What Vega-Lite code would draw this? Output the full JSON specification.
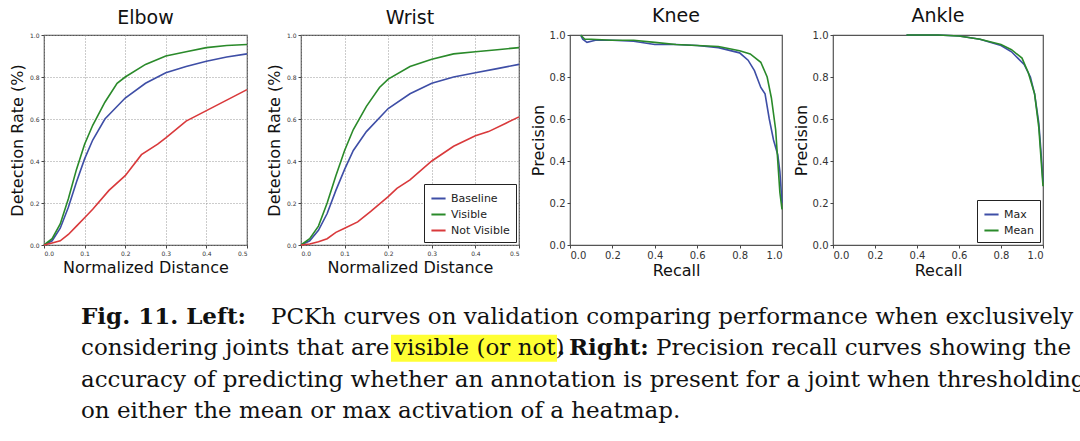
{
  "$schema": "https://vega.github.io/schema/vega-lite/v6.json",
  "padding": {"left": 8, "top": 6, "right": 4, "bottom": 0},
  "background": "white",
  "datasets": {
    "pckh": [
      {"joint":"Elbow","series":"Baseline","d":0,"r":0},{"joint":"Elbow","series":"Baseline","d":0.02,"r":0.02},{"joint":"Elbow","series":"Baseline","d":0.04,"r":0.08},{"joint":"Elbow","series":"Baseline","d":0.06,"r":0.18},{"joint":"Elbow","series":"Baseline","d":0.08,"r":0.3},{"joint":"Elbow","series":"Baseline","d":0.1,"r":0.41},{"joint":"Elbow","series":"Baseline","d":0.12,"r":0.5},{"joint":"Elbow","series":"Baseline","d":0.15,"r":0.6},{"joint":"Elbow","series":"Baseline","d":0.2,"r":0.7},{"joint":"Elbow","series":"Baseline","d":0.25,"r":0.77},{"joint":"Elbow","series":"Baseline","d":0.3,"r":0.82},{"joint":"Elbow","series":"Baseline","d":0.35,"r":0.85},{"joint":"Elbow","series":"Baseline","d":0.4,"r":0.875},{"joint":"Elbow","series":"Baseline","d":0.45,"r":0.895},{"joint":"Elbow","series":"Baseline","d":0.5,"r":0.91},
      {"joint":"Elbow","series":"Visible","d":0,"r":0},{"joint":"Elbow","series":"Visible","d":0.02,"r":0.03},{"joint":"Elbow","series":"Visible","d":0.04,"r":0.1},{"joint":"Elbow","series":"Visible","d":0.06,"r":0.22},{"joint":"Elbow","series":"Visible","d":0.08,"r":0.36},{"joint":"Elbow","series":"Visible","d":0.1,"r":0.48},{"joint":"Elbow","series":"Visible","d":0.12,"r":0.57},{"joint":"Elbow","series":"Visible","d":0.15,"r":0.68},{"joint":"Elbow","series":"Visible","d":0.18,"r":0.77},{"joint":"Elbow","series":"Visible","d":0.2,"r":0.8},{"joint":"Elbow","series":"Visible","d":0.25,"r":0.86},{"joint":"Elbow","series":"Visible","d":0.3,"r":0.9},{"joint":"Elbow","series":"Visible","d":0.35,"r":0.92},{"joint":"Elbow","series":"Visible","d":0.4,"r":0.94},{"joint":"Elbow","series":"Visible","d":0.45,"r":0.95},{"joint":"Elbow","series":"Visible","d":0.5,"r":0.955},
      {"joint":"Elbow","series":"Not Visible","d":0,"r":0},{"joint":"Elbow","series":"Not Visible","d":0.02,"r":0.01},{"joint":"Elbow","series":"Not Visible","d":0.04,"r":0.02},{"joint":"Elbow","series":"Not Visible","d":0.06,"r":0.05},{"joint":"Elbow","series":"Not Visible","d":0.08,"r":0.09},{"joint":"Elbow","series":"Not Visible","d":0.1,"r":0.13},{"joint":"Elbow","series":"Not Visible","d":0.12,"r":0.17},{"joint":"Elbow","series":"Not Visible","d":0.16,"r":0.26},{"joint":"Elbow","series":"Not Visible","d":0.2,"r":0.33},{"joint":"Elbow","series":"Not Visible","d":0.24,"r":0.43},{"joint":"Elbow","series":"Not Visible","d":0.28,"r":0.48},{"joint":"Elbow","series":"Not Visible","d":0.3,"r":0.51},{"joint":"Elbow","series":"Not Visible","d":0.35,"r":0.59},{"joint":"Elbow","series":"Not Visible","d":0.4,"r":0.64},{"joint":"Elbow","series":"Not Visible","d":0.45,"r":0.69},{"joint":"Elbow","series":"Not Visible","d":0.5,"r":0.74},
      {"joint":"Wrist","series":"Baseline","d":0,"r":0},{"joint":"Wrist","series":"Baseline","d":0.02,"r":0.02},{"joint":"Wrist","series":"Baseline","d":0.04,"r":0.07},{"joint":"Wrist","series":"Baseline","d":0.06,"r":0.15},{"joint":"Wrist","series":"Baseline","d":0.08,"r":0.26},{"joint":"Wrist","series":"Baseline","d":0.1,"r":0.36},{"joint":"Wrist","series":"Baseline","d":0.12,"r":0.45},{"joint":"Wrist","series":"Baseline","d":0.15,"r":0.54},{"joint":"Wrist","series":"Baseline","d":0.2,"r":0.65},{"joint":"Wrist","series":"Baseline","d":0.25,"r":0.72},{"joint":"Wrist","series":"Baseline","d":0.3,"r":0.77},{"joint":"Wrist","series":"Baseline","d":0.35,"r":0.8},{"joint":"Wrist","series":"Baseline","d":0.4,"r":0.82},{"joint":"Wrist","series":"Baseline","d":0.45,"r":0.84},{"joint":"Wrist","series":"Baseline","d":0.5,"r":0.86},
      {"joint":"Wrist","series":"Visible","d":0,"r":0},{"joint":"Wrist","series":"Visible","d":0.02,"r":0.03},{"joint":"Wrist","series":"Visible","d":0.04,"r":0.09},{"joint":"Wrist","series":"Visible","d":0.06,"r":0.2},{"joint":"Wrist","series":"Visible","d":0.08,"r":0.33},{"joint":"Wrist","series":"Visible","d":0.1,"r":0.45},{"joint":"Wrist","series":"Visible","d":0.12,"r":0.55},{"joint":"Wrist","series":"Visible","d":0.15,"r":0.66},{"joint":"Wrist","series":"Visible","d":0.18,"r":0.75},{"joint":"Wrist","series":"Visible","d":0.2,"r":0.79},{"joint":"Wrist","series":"Visible","d":0.25,"r":0.85},{"joint":"Wrist","series":"Visible","d":0.3,"r":0.885},{"joint":"Wrist","series":"Visible","d":0.35,"r":0.91},{"joint":"Wrist","series":"Visible","d":0.4,"r":0.92},{"joint":"Wrist","series":"Visible","d":0.45,"r":0.93},{"joint":"Wrist","series":"Visible","d":0.5,"r":0.94},
      {"joint":"Wrist","series":"Not Visible","d":0,"r":0},{"joint":"Wrist","series":"Not Visible","d":0.02,"r":0.005},{"joint":"Wrist","series":"Not Visible","d":0.04,"r":0.015},{"joint":"Wrist","series":"Not Visible","d":0.06,"r":0.03},{"joint":"Wrist","series":"Not Visible","d":0.08,"r":0.06},{"joint":"Wrist","series":"Not Visible","d":0.1,"r":0.08},{"joint":"Wrist","series":"Not Visible","d":0.13,"r":0.11},{"joint":"Wrist","series":"Not Visible","d":0.16,"r":0.16},{"joint":"Wrist","series":"Not Visible","d":0.2,"r":0.23},{"joint":"Wrist","series":"Not Visible","d":0.22,"r":0.27},{"joint":"Wrist","series":"Not Visible","d":0.25,"r":0.31},{"joint":"Wrist","series":"Not Visible","d":0.3,"r":0.4},{"joint":"Wrist","series":"Not Visible","d":0.35,"r":0.47},{"joint":"Wrist","series":"Not Visible","d":0.4,"r":0.52},{"joint":"Wrist","series":"Not Visible","d":0.43,"r":0.54},{"joint":"Wrist","series":"Not Visible","d":0.47,"r":0.58},{"joint":"Wrist","series":"Not Visible","d":0.5,"r":0.61}
    ],
    "pr": [
      {"joint":"Knee","series":"Max","recall":0.05,"precision":1.0},{"joint":"Knee","series":"Max","recall":0.06,"precision":0.98},{"joint":"Knee","series":"Max","recall":0.08,"precision":0.965},{"joint":"Knee","series":"Max","recall":0.12,"precision":0.975},{"joint":"Knee","series":"Max","recall":0.2,"precision":0.975},{"joint":"Knee","series":"Max","recall":0.3,"precision":0.97},{"joint":"Knee","series":"Max","recall":0.4,"precision":0.955},{"joint":"Knee","series":"Max","recall":0.5,"precision":0.955},{"joint":"Knee","series":"Max","recall":0.6,"precision":0.95},{"joint":"Knee","series":"Max","recall":0.7,"precision":0.94},{"joint":"Knee","series":"Max","recall":0.8,"precision":0.915},{"joint":"Knee","series":"Max","recall":0.84,"precision":0.88},{"joint":"Knee","series":"Max","recall":0.87,"precision":0.83},{"joint":"Knee","series":"Max","recall":0.9,"precision":0.75},{"joint":"Knee","series":"Max","recall":0.92,"precision":0.72},{"joint":"Knee","series":"Max","recall":0.94,"precision":0.6},{"joint":"Knee","series":"Max","recall":0.96,"precision":0.5},{"joint":"Knee","series":"Max","recall":0.98,"precision":0.43},{"joint":"Knee","series":"Max","recall":0.99,"precision":0.35},{"joint":"Knee","series":"Max","recall":1.0,"precision":0.2},
      {"joint":"Knee","series":"Mean","recall":0.05,"precision":1.0},{"joint":"Knee","series":"Mean","recall":0.07,"precision":0.98},{"joint":"Knee","series":"Mean","recall":0.1,"precision":0.98},{"joint":"Knee","series":"Mean","recall":0.2,"precision":0.975},{"joint":"Knee","series":"Mean","recall":0.3,"precision":0.975},{"joint":"Knee","series":"Mean","recall":0.4,"precision":0.965},{"joint":"Knee","series":"Mean","recall":0.5,"precision":0.955},{"joint":"Knee","series":"Mean","recall":0.6,"precision":0.95},{"joint":"Knee","series":"Mean","recall":0.7,"precision":0.945},{"joint":"Knee","series":"Mean","recall":0.8,"precision":0.925},{"joint":"Knee","series":"Mean","recall":0.85,"precision":0.91},{"joint":"Knee","series":"Mean","recall":0.9,"precision":0.87},{"joint":"Knee","series":"Mean","recall":0.93,"precision":0.8},{"joint":"Knee","series":"Mean","recall":0.95,"precision":0.7},{"joint":"Knee","series":"Mean","recall":0.97,"precision":0.55},{"joint":"Knee","series":"Mean","recall":0.98,"precision":0.4},{"joint":"Knee","series":"Mean","recall":0.99,"precision":0.25},{"joint":"Knee","series":"Mean","recall":1.0,"precision":0.17},
      {"joint":"Ankle","series":"Max","recall":0.35,"precision":1.0},{"joint":"Ankle","series":"Max","recall":0.5,"precision":1.0},{"joint":"Ankle","series":"Max","recall":0.6,"precision":0.995},{"joint":"Ankle","series":"Max","recall":0.7,"precision":0.98},{"joint":"Ankle","series":"Max","recall":0.8,"precision":0.95},{"joint":"Ankle","series":"Max","recall":0.85,"precision":0.92},{"joint":"Ankle","series":"Max","recall":0.88,"precision":0.89},{"joint":"Ankle","series":"Max","recall":0.91,"precision":0.86},{"joint":"Ankle","series":"Max","recall":0.94,"precision":0.8},{"joint":"Ankle","series":"Max","recall":0.96,"precision":0.72},{"joint":"Ankle","series":"Max","recall":0.98,"precision":0.58},{"joint":"Ankle","series":"Max","recall":0.99,"precision":0.45},{"joint":"Ankle","series":"Max","recall":1.0,"precision":0.3},
      {"joint":"Ankle","series":"Mean","recall":0.35,"precision":1.0},{"joint":"Ankle","series":"Mean","recall":0.5,"precision":1.0},{"joint":"Ankle","series":"Mean","recall":0.6,"precision":0.995},{"joint":"Ankle","series":"Mean","recall":0.7,"precision":0.98},{"joint":"Ankle","series":"Mean","recall":0.8,"precision":0.955},{"joint":"Ankle","series":"Mean","recall":0.85,"precision":0.93},{"joint":"Ankle","series":"Mean","recall":0.9,"precision":0.89},{"joint":"Ankle","series":"Mean","recall":0.93,"precision":0.82},{"joint":"Ankle","series":"Mean","recall":0.96,"precision":0.72},{"joint":"Ankle","series":"Mean","recall":0.98,"precision":0.56},{"joint":"Ankle","series":"Mean","recall":0.99,"precision":0.42},{"joint":"Ankle","series":"Mean","recall":1.0,"precision":0.28}
    ],
    "caption": [
      {"line":1,"x":0,"text":"Fig. 11. Left:","weight":"bold"},
      {"line":1,"x":190,"text":"PCKh curves on validation comparing performance when exclusively","weight":"normal"},
      {"line":2,"x":0,"text":"considering joints that are","weight":"normal"},
      {"line":2,"x":313,"text":"visible (or not)","weight":"normal"},
      {"line":2,"x":476,"text":".","weight":"bold"},
      {"line":2,"x":488,"text":"Right:","weight":"bold"},
      {"line":2,"x":575,"text":"Precision recall curves showing the","weight":"normal"},
      {"line":3,"x":0,"text":"accuracy of predicting whether an annotation is present for a joint when thresholding","weight":"normal"},
      {"line":4,"x":0,"text":"on either the mean or max activation of a heatmap.","weight":"normal"}
    ],
    "highlight": [{"line":2,"x":310,"x2":476}]
  },
  "config": {
    "view": {"stroke": "#555", "strokeWidth": 1.2},
    "font": "DejaVu Sans",
    "title": {"fontSize": 19, "fontWeight": "normal", "color": "#111", "offset": 4},
    "axis": {"titleFontWeight": "normal", "titleFontSize": 16, "titleColor": "#111", "labelColor": "#333", "domain": false, "tickColor": "#444", "tickSize": 3, "tickDirection": "in"},
    "legend": {"orient": "bottom-right", "strokeColor": "#222", "fillColor": "white", "padding": 6, "labelFontSize": 11, "labelColor": "#222", "symbolType": "stroke", "symbolStrokeWidth": 2, "title": null, "symbolSize": 200, "offset": 3}
  },
  "vconcat": [
    {
      "hconcat": [
        {
          "hconcat": [
            {
              "title": "Elbow", "width": 203, "height": 210,
              "data": {"name": "pckh"},
              "transform": [{"filter": "datum.joint === 'Elbow'"}],
              "mark": {"type": "line", "strokeWidth": 1.6},
              "encoding": {
                "x": {"field": "d", "type": "quantitative", "scale": {"domain": [0, 0.5]}, "axis": {"title": "Normalized Distance", "values": [0,0.1,0.2,0.3,0.4,0.5], "format": ".1f", "labelFontSize": 6, "grid": true, "gridDash": [1,2], "gridColor": "#999", "labelPadding": 2, "titlePadding": 3}},
                "y": {"field": "r", "type": "quantitative", "scale": {"domain": [0, 1]}, "axis": {"title": "Detection Rate (%)", "values": [0,0.2,0.4,0.6,0.8,1], "format": ".1f", "labelFontSize": 6, "grid": true, "gridDash": [1,2], "gridColor": "#999", "labelPadding": 2, "titlePadding": 4}},
                "color": {"field": "series", "type": "nominal", "scale": {"domain": ["Baseline","Visible","Not Visible"], "range": ["#3e4ea6","#2a8a2a","#d9393b"]}, "legend": null}
              }
            },
            {
              "title": "Wrist", "width": 218, "height": 210,
              "data": {"name": "pckh"},
              "transform": [{"filter": "datum.joint === 'Wrist'"}],
              "mark": {"type": "line", "strokeWidth": 1.6},
              "encoding": {
                "x": {"field": "d", "type": "quantitative", "scale": {"domain": [0, 0.5]}, "axis": {"title": "Normalized Distance", "values": [0,0.1,0.2,0.3,0.4,0.5], "format": ".1f", "labelFontSize": 6, "grid": true, "gridDash": [1,2], "gridColor": "#999", "labelPadding": 2, "titlePadding": 3}},
                "y": {"field": "r", "type": "quantitative", "scale": {"domain": [0, 1]}, "axis": {"title": "Detection Rate (%)", "values": [0,0.2,0.4,0.6,0.8,1], "format": ".1f", "labelFontSize": 6, "grid": true, "gridDash": [1,2], "gridColor": "#999", "labelPadding": 2, "titlePadding": 4}},
                "color": {"field": "series", "type": "nominal", "scale": {"domain": ["Baseline","Visible","Not Visible"], "range": ["#3e4ea6","#2a8a2a","#d9393b"]}, "legend": {}}
              }
            }
          ],
          "spacing": 14,
          "resolve": {"scale": {"color": "independent"}, "legend": {"color": "independent"}}
        },
        {
          "hconcat": [
            {
              "title": "Knee", "width": 212, "height": 210,
              "data": {"name": "pr"},
              "transform": [{"filter": "datum.joint === 'Knee'"}],
              "mark": {"type": "line", "strokeWidth": 1.6},
              "encoding": {
                "x": {"field": "recall", "type": "quantitative", "scale": {"domain": [0, 1]}, "axis": {"title": "Recall", "values": [0,0.2,0.4,0.6,0.8,1], "format": ".1f", "labelFontSize": 10, "grid": false, "labelPadding": 2, "titlePadding": 2}},
                "y": {"field": "precision", "type": "quantitative", "scale": {"domain": [0, 1]}, "axis": {"title": "Precision", "values": [0,0.2,0.4,0.6,0.8,1], "format": ".1f", "labelFontSize": 10, "grid": false, "labelPadding": 2, "titlePadding": 3}},
                "color": {"field": "series", "type": "nominal", "scale": {"domain": ["Max","Mean"], "range": ["#3e4ea6","#2a8a2a"]}, "legend": null}
              }
            },
            {
              "title": "Ankle", "width": 210, "height": 210,
              "data": {"name": "pr"},
              "transform": [{"filter": "datum.joint === 'Ankle'"}],
              "mark": {"type": "line", "strokeWidth": 1.6},
              "encoding": {
                "x": {"field": "recall", "type": "quantitative", "scale": {"domain": [0, 1]}, "axis": {"title": "Recall", "values": [0,0.2,0.4,0.6,0.8,1], "format": ".1f", "labelFontSize": 10, "grid": false, "labelPadding": 2, "titlePadding": 2}},
                "y": {"field": "precision", "type": "quantitative", "scale": {"domain": [0, 1]}, "axis": {"title": "Precision", "values": [0,0.2,0.4,0.6,0.8,1], "format": ".1f", "labelFontSize": 10, "grid": false, "labelPadding": 2, "titlePadding": 3}},
                "color": {"field": "series", "type": "nominal", "scale": {"domain": ["Max","Mean"], "range": ["#3e4ea6","#2a8a2a"]}, "legend": {}}
              }
            }
          ],
          "spacing": 6,
          "resolve": {"scale": {"color": "independent"}, "legend": {"color": "independent"}}
        }
      ],
      "spacing": 6,
      "resolve": {"scale": {"color": "independent"}, "legend": {"color": "independent"}}
    },
    {
      "width": 1062, "height": 126,
      "view": {"stroke": null},
      "layer": [
        {
          "data": {"name": "highlight"},
          "mark": {"type": "rect", "color": "#ffff33", "height": 27},
          "encoding": {
            "x": {"field": "x", "type": "quantitative", "scale": {"domain": [-37, 1025]}, "axis": null},
            "x2": {"field": "x2"},
            "y": {"field": "line", "type": "quantitative", "scale": {"domain": [0.5, 4.5], "reverse": true}, "axis": null}
          }
        },
        {
          "data": {"name": "caption"},
          "transform": [{"filter": "datum.weight === 'normal'"}],
          "mark": {"type": "text", "align": "left", "baseline": "middle", "font": "DejaVu Serif", "fontSize": 23, "color": "#111"},
          "encoding": {
            "x": {"field": "x", "type": "quantitative", "scale": {"domain": [-37, 1025]}, "axis": null},
            "y": {"field": "line", "type": "quantitative", "scale": {"domain": [0.5, 4.5], "reverse": true}, "axis": null},
            "text": {"field": "text"}
          }
        },
        {
          "data": {"name": "caption"},
          "transform": [{"filter": "datum.weight === 'bold'"}],
          "mark": {"type": "text", "align": "left", "baseline": "middle", "font": "DejaVu Serif", "fontSize": 23, "fontWeight": "bold", "color": "#111"},
          "encoding": {
            "x": {"field": "x", "type": "quantitative", "scale": {"domain": [-37, 1025]}, "axis": null},
            "y": {"field": "line", "type": "quantitative", "scale": {"domain": [0.5, 4.5], "reverse": true}, "axis": null},
            "text": {"field": "text"}
          }
        }
      ]
    }
  ],
  "spacing": 22
}
